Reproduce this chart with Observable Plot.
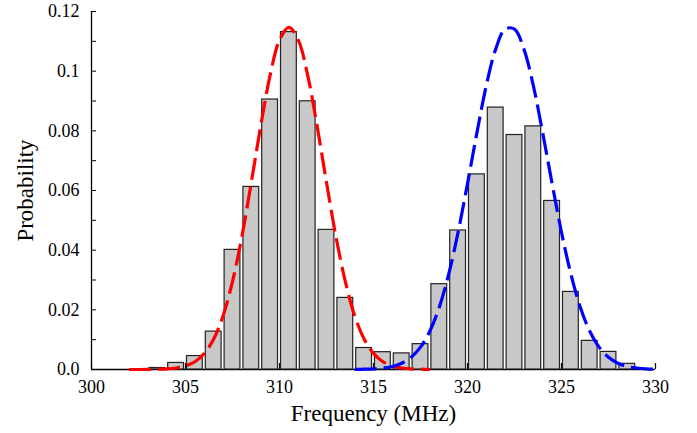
<!DOCTYPE html>
<html>
<head>
<meta charset="utf-8">
<script src="https://cdn.jsdelivr.net/npm/d3@7"></script>
<script src="https://cdn.jsdelivr.net/npm/@observablehq/plot@0.6"></script>
<style>
  html, body { margin: 0; padding: 0; background: #fff; }
  #chart { width: 697px; height: 433px; }
  #chart svg, #chart svg text { font-family: "Liberation Serif", "DejaVu Serif", serif !important; }
</style>
</head>
<body>
<div id="chart"></div>
<script>
// Histogram bins (center in MHz) and probabilities
const binCenters = [303.5, 304.5, 305.5, 306.5, 307.5, 308.5, 309.5, 310.5, 311.5, 312.5, 313.5, 314.5, 315.5,
                    316.5, 317.5, 318.5, 319.5, 320.5, 321.5, 322.5, 323.5, 324.5, 325.5, 326.5, 327.5, 328.5];
const probabilities = [0.0005, 0.0022, 0.0045, 0.0127, 0.0401, 0.0612, 0.0905, 0.1131, 0.0899, 0.0468, 0.0240, 0.0072, 0.0058,
                       0.0054, 0.0085, 0.0286, 0.0466, 0.0654, 0.0878, 0.0786, 0.0815, 0.0565, 0.0260, 0.0096, 0.0059, 0.0019];

// Red fitted curve
const redFreq = [302, 302.5, 303, 303.5, 304, 304.5, 305, 305.5, 306, 306.5, 307, 307.5, 308, 308.5, 309, 309.5, 310,
                 310.5, 311, 311.5, 312, 312.5, 313, 313.5, 314, 314.5, 315, 315.5, 316, 316.5, 317, 317.5, 318];
const redProb = [0, 0, 0.00002, 0.0001, 0.0002, 0.0005, 0.0012, 0.0026, 0.0054, 0.0102, 0.0180, 0.0295, 0.0446, 0.0627, 0.0816, 0.0986, 0.1104,
                 0.1147, 0.1104, 0.0986, 0.0816, 0.0627, 0.0446, 0.0295, 0.0180, 0.0102, 0.0054, 0.0026, 0.0012, 0.0005, 0.0002, 0.0001, 0];

// Blue fitted curve
const blueFreq = [314, 314.5, 315, 315.5, 316, 316.5, 317, 317.5, 318, 318.5, 319, 319.5, 320, 320.5, 321, 321.5, 322,
                  322.5, 323, 323.5, 324, 324.5, 325, 325.5, 326, 326.5, 327, 327.5, 328, 328.5, 329, 329.5, 330];
const blueProb = [0.00003, 0.0001, 0.0002, 0.0005, 0.0010, 0.0021, 0.0041, 0.0075, 0.0129, 0.0209, 0.0320, 0.0460, 0.0623, 0.0793, 0.0952, 0.1074, 0.1141,
                  0.1141, 0.1074, 0.0952, 0.0793, 0.0623, 0.0460, 0.0320, 0.0209, 0.0129, 0.0075, 0.0041, 0.0021, 0.0010, 0.0005, 0.0002, 0.0001];

// Axis ticks
const xTicks = [300, 305, 310, 315, 320, 325, 330];
const yTicks = [0, 0.02, 0.04, 0.06, 0.08, 0.10, 0.12];
const yTickLabels = ["0.0", "0.02", "0.04", "0.06", "0.08", "0.1", "0.12"];
const yMinorTicks = [0.01, 0.03, 0.05, 0.07, 0.09, 0.11];

const bars = binCenters.map((c, i) => ({freq: c, p: probabilities[i]}));
const red = redFreq.map((f, i) => ({freq: f, p: redProb[i]}));
const blue = blueFreq.map((f, i) => ({freq: f, p: blueProb[i]}));

const W = 697, H = 433;
const mL = 91, mR = 42, mT = 11, mB = 64;
const innerW = W - mL - mR, innerH = H - mT - mB;
const serif = "Liberation Serif, DejaVu Serif, serif";

const chart = Plot.plot({
  width: W,
  height: H,
  marginLeft: mL,
  marginRight: mR,
  marginTop: mT,
  marginBottom: mB,
  style: {fontFamily: serif, fontSize: "18px", background: "#fff", color: "#000"},
  x: {domain: [300, 330]},
  y: {domain: [0, 0.12]},
  marks: [
    Plot.axisX({ticks: xTicks, tickSize: 0, tickPadding: 11, tickFormat: d => String(d), label: null, fontSize: 18, fontFamily: serif}),
    Plot.axisY({ticks: yTicks, tickSize: 0, tickPadding: 12, tickFormat: (d, i) => yTickLabels[i], label: null, fontSize: 18, fontFamily: serif}),
    Plot.tickX(xTicks, {x: d => d, insetTop: innerH - 6, stroke: "#000", strokeWidth: 1.2}),
    Plot.tickY(yTicks.concat(yMinorTicks), {y: d => d, insetRight: innerW - 5, stroke: "#000", strokeWidth: 1}),
    Plot.ruleX([300], {stroke: "#000", strokeWidth: 1.3}),
    Plot.ruleY([0], {stroke: "#000", strokeWidth: 1.3}),
    Plot.rectY(bars, {x: "freq", interval: 1, y: "p", fill: "#c8c8c8", stroke: "#222", strokeWidth: 1.2, insetLeft: 1.5, insetRight: 1.5}),
    Plot.line(red, {x: "freq", y: "p", stroke: "#ff0000", strokeWidth: 3.2, strokeDasharray: "22,7", strokeLinecap: "butt", curve: "catmull-rom"}),
    Plot.line(blue, {x: "freq", y: "p", stroke: "#0000ff", strokeWidth: 3.2, strokeDasharray: "22,7", strokeLinecap: "butt", curve: "catmull-rom"}),
    Plot.text(["Frequency (MHz)"], {frameAnchor: "bottom", lineAnchor: "middle", textAnchor: "middle", dy: 44, fontSize: 23, fontFamily: serif, fill: "#000"}),
    Plot.text(["Probability"], {frameAnchor: "left", lineAnchor: "middle", textAnchor: "middle", dx: -66, rotate: -90, fontSize: 23, fontFamily: serif, fill: "#000"})
  ]
});
document.getElementById("chart").appendChild(chart);
</script>
</body>
</html>
